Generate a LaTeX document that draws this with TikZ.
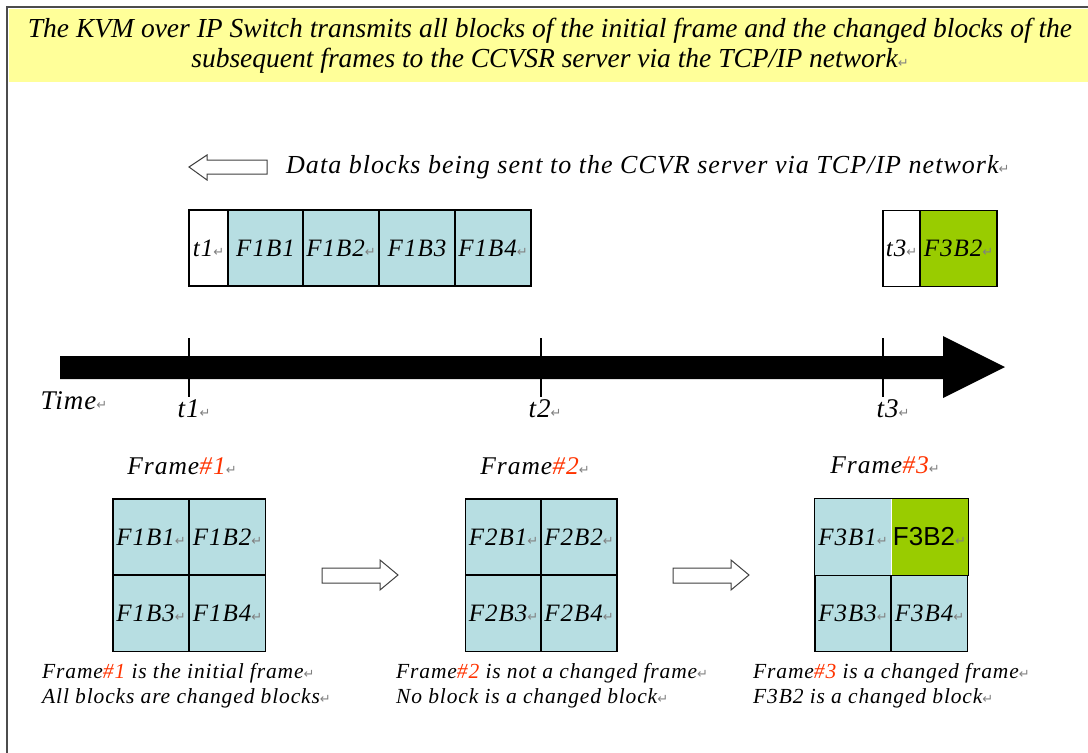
\documentclass[tikz,border=0pt]{standalone}
\usepackage{fontspec}
\setmainfont{Liberation Serif}
\newfontfamily\spc[LetterSpace=4]{Liberation Serif}
\newfontfamily\symfont{DejaVu Sans}
\newfontfamily\sansf{Liberation Sans}
\definecolor{cellblue}{RGB}{183,222,226}
\definecolor{cellgreen}{RGB}{153,204,0}
\definecolor{titleyellow}{RGB}{255,255,153}
\definecolor{numred}{RGB}{255,51,0}
\definecolor{markgray}{RGB}{128,128,128}
\newcommand{\pmark}{{\symfont\color{markgray}\fontsize{13}{13}\selectfont ↵}}
\newcommand{\rnum}[1]{{\color{numred}\##1}}
\begin{document}
\begin{tikzpicture}[x=1pt,y=-1pt,
  cell/.style={draw=black, line width=1.1pt, fill=cellblue, inner sep=0pt,
    minimum width=76pt, minimum height=76pt, font=\spc\fontsize{25}{25}\selectfont\itshape},
  lbl/.style={inner sep=0pt, font=\spc\fontsize{27}{27}\selectfont\itshape},
  flbl/.style={inner sep=0pt, font=\spc\fontsize{25.5}{25.5}\selectfont\itshape},
  note/.style={inner sep=0pt, anchor=west, font=\spc\fontsize{21.5}{21.5}\selectfont\itshape},
  hollow/.style={draw=black!75, line width=1pt, fill=white},
  tick/.style={draw=black, line width=1.2pt}]
\useasboundingbox (0,0) rectangle (1088,753);
% title band
\fill[titleyellow] (9,9) rectangle (1088,82);
\draw[black!70, line width=1.5pt] (1088,7) -- (7,7) -- (7,753);
\node[inner sep=0pt, align=center, font=\fontsize{27.5}{30}\selectfont\itshape] (title) at (550,46)
  {The KVM over IP Switch transmits all blocks of the initial frame and the changed blocks of the\\
   subsequent frames to the CCVSR server via the TCP/IP network\pmark};
% data blocks arrow and text
\draw[hollow] (189,167) -- (207,155) -- (207,160) -- (267,160) -- (267,174) -- (207,174) -- (207,180) -- cycle;
\node[inner sep=0pt, anchor=west, font=\spc\fontsize{26}{26}\selectfont\itshape] (sendtxt) at (286,167)
  {Data blocks being sent to the CCVR server via TCP/IP network\pmark};
% top row of blocks
\node[cell, fill=white, minimum width=39pt] (s0) at (208.5,248) {t1\pmark};
\node[cell, minimum width=75pt] (s1) at (265.5,248) {F1B1};
\node[cell] (s2) at (341,248) {F1B2\pmark};
\node[cell] (s3) at (417,248) {F1B3};
\node[cell] (s4) at (493,248) {F1B4\pmark};
\node[cell, fill=white, minimum width=37pt] (r0) at (901.5,248.5) {t3\pmark};
\node[cell, fill=cellgreen, minimum width=77pt] (r1) at (958.5,248.5) {F3B2\pmark};
% time axis
\fill[black] (60,356) -- (943,356) -- (943,336) -- (1005,367) -- (943,398) -- (943,379) -- (60,379) -- cycle;
\coordinate (k1a) at (189,338); \coordinate (k1b) at (189,397);
\coordinate (k2a) at (541,338); \coordinate (k2b) at (541,397);
\coordinate (k3a) at (883,338); \coordinate (k3b) at (883,397);
\draw[tick] (k1a) -- (k1b);
\draw[tick] (k2a) -- (k2b);
\draw[tick] (k3a) -- (k3b);
\node[lbl] (time) at (74,401) {Time\pmark};
\node[lbl] (lt1) at (194,409) {t1\pmark};
\node[lbl] (lt2) at (545,409) {t2\pmark};
\node[lbl] (lt3) at (893,409) {t3\pmark};
% frame labels
\node[flbl] (fr1) at (182,466) {Frame\rnum{1}\pmark};
\node[flbl] (fr2) at (535,466) {Frame\rnum{2}\pmark};
\node[flbl] (fr3) at (885,465) {Frame\rnum{3}\pmark};
% frame 1 grid
\node[cell] (a1) at (151,537) {F1B1\pmark};
\node[cell] (a2) at (227.5,537) {F1B2\pmark};
\node[cell] (a3) at (151,613.5) {F1B3\pmark};
\node[cell] (a4) at (227.5,613.5) {F1B4\pmark};
% frame 2 grid
\node[cell] (b1) at (503.5,537) {F2B1\pmark};
\node[cell] (b2) at (579,537) {F2B2\pmark};
\node[cell] (b3) at (503.5,613.5) {F2B3\pmark};
\node[cell] (b4) at (579,613.5) {F2B4\pmark};
% frame 3 grid
\node[cell, draw=none] (c1) at (853,537) {F3B1\pmark};
\node[cell, draw=none, fill=cellgreen, font=\fontsize{26}{26}\selectfont\sansf] (c2) at (929.5,537) {F3B2\pmark};
\node[cell] (c3) at (853,613.5) {F3B3\pmark};
\node[cell] (c4) at (929.5,613.5) {F3B4\pmark};
\draw[black, line width=1.1pt] (c1.south west) rectangle (c2.north east);
% hollow arrows between frames
\draw[hollow] (322,568) -- (380,568) -- (380,560) -- (398,575) -- (380,590) -- (380,583) -- (322,583) -- cycle;
\draw[hollow] (673,568) -- (731,568) -- (731,560) -- (749,575) -- (731,590) -- (731,583) -- (673,583) -- cycle;
% notes
\node[note] (n1a) at (42,673) {Frame\rnum{1} is the initial frame\pmark};
\node[note] (n1b) at (42,698) {All blocks are changed blocks\pmark};
\node[note] (n2a) at (396,673) {Frame\rnum{2} is not a changed frame\pmark};
\node[note] (n2b) at (396,698) {No block is a changed block\pmark};
\node[note] (n3a) at (753,673) {Frame\rnum{3} is a changed frame\pmark};
\node[note] (n3b) at (753,698) {F3B2 is a changed block\pmark};
\end{tikzpicture}
\end{document}
